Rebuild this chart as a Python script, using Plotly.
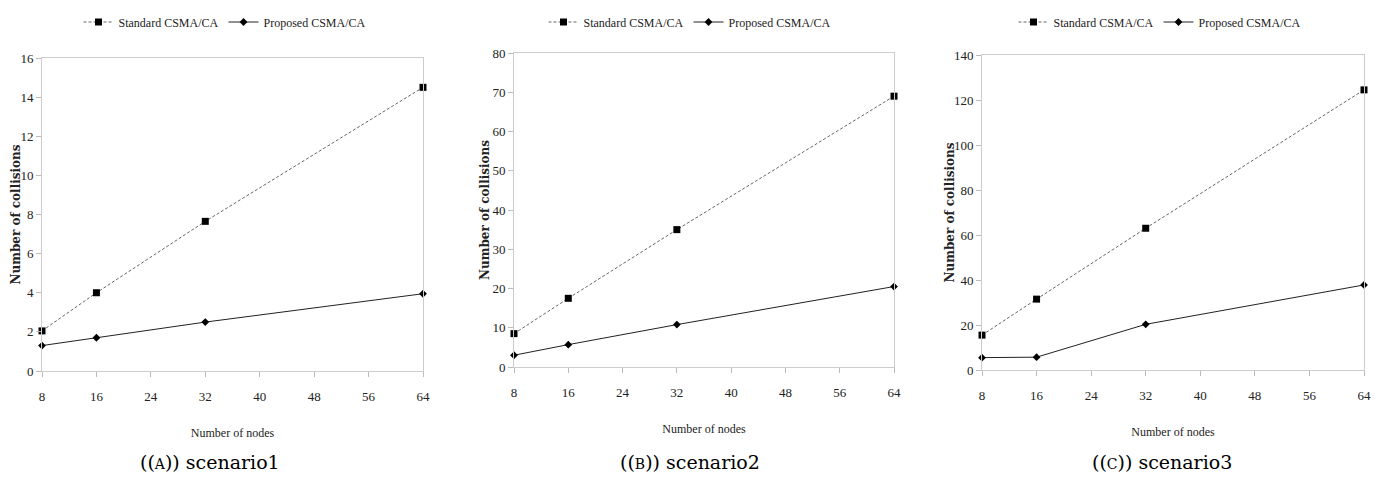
import plotly.graph_objects as go

nodes = [8, 16, 32, 64]
std_a = [2.05, 4.0, 7.65, 14.5]
prop_a = [1.3, 1.7, 2.5, 3.95]
std_b = [8.5, 17.5, 35.0, 69.0]
prop_b = [3.0, 5.7, 10.8, 20.5]
std_c = [15.5, 31.5, 63.0, 124.5]
prop_c = [5.5, 5.7, 20.3, 37.8]
x_ticks = [8, 16, 24, 32, 40, 48, 56, 64]
y_max = [16, 80, 140]
y_step = [2, 10, 20]
captions = ["((<span style='font-size:14px'>A</span>)) scenario1",
            "((<span style='font-size:14px'>B</span>)) scenario2",
            "((<span style='font-size:14px'>C</span>)) scenario3"]

OFF = 8  # default page body margin
W, H = 1386 - OFF, 478 - OFF
boxes = [(42, 423, 58, 371), (514, 894, 53, 367), (982, 1364, 55, 370)]
legend_x = [225, 690, 1160]
ytitle_x = [15, 485, 949]
caption_x = [210, 690, 1162]

def px(v):
    return (v - OFF) / W

def py(v):
    return 1 - (v - OFF) / H

SERIF = "Liberation Serif, Times New Roman, serif"
tick_font = dict(family=SERIF, size=13, color="#222222")
fig = go.Figure()
series = [(std_a, prop_a), (std_b, prop_b), (std_c, prop_c)]
for i, (s, p) in enumerate(series):
    xa = "x" if i == 0 else f"x{i+1}"
    ya = "y" if i == 0 else f"y{i+1}"
    lg = "legend" if i == 0 else f"legend{i+1}"
    fig.add_trace(go.Scatter(x=nodes, y=s, mode="lines+markers", name="Standard CSMA/CA",
                             line=dict(color="#666", width=1, dash="3px,2px"),
                             marker=dict(symbol="square", size=7, color="black"),
                             xaxis=xa, yaxis=ya, legend=lg, cliponaxis=False))
    fig.add_trace(go.Scatter(x=nodes, y=p, mode="lines+markers", name="Proposed CSMA/CA",
                             line=dict(color="#222", width=1),
                             marker=dict(symbol="diamond", size=6, color="black"),
                             xaxis=xa, yaxis=ya, legend=lg, cliponaxis=False))

layout = dict(width=W, height=H, margin=dict(l=0, r=0, t=0, b=0, autoexpand=False),
              font=dict(family=SERIF, size=13, color="#222222"),
              plot_bgcolor="white", paper_bgcolor="white", annotations=[])
for i, (xl, xr, yt, yb) in enumerate(boxes):
    sfx = "" if i == 0 else str(i + 1)
    layout["xaxis" + sfx] = dict(
        domain=[px(xl), px(xr)], range=[8, 64], tickvals=x_ticks, automargin=False,
        anchor="y" + sfx, showgrid=False, zeroline=False,
        showline=True, linecolor="#ccc", linewidth=1, mirror=True,
        ticks="outside", tickcolor="#bbb", ticklen=5, tickfont=tick_font, ticklabelstandoff=8,
        title=dict(text="Number of nodes", font=dict(family=SERIF, size=12, color="#222222"), standoff=26))
    layout["yaxis" + sfx] = dict(
        domain=[py(yb), py(yt)], range=[0, y_max[i]], dtick=y_step[i], automargin=False,
        anchor="x" + sfx, showgrid=False, zeroline=False,
        showline=True, linecolor="#ccc", linewidth=1, mirror=True,
        ticks="outside", tickcolor="#bbb", ticklen=5, tickfont=tick_font)
    layout["annotations"].append(dict(
        text="<b>Number of collisions</b>", x=px(ytitle_x[i]), y=py((yt + yb) / 2),
        xref="paper", yref="paper", textangle=-90, showarrow=False,
        font=dict(family="DejaVu Serif", size=12, color="#222"), xanchor="center", yanchor="middle"))
    layout["legend" + sfx] = dict(
        orientation="h", x=px(legend_x[i]), xanchor="center", y=py(22), yanchor="middle",
        font=dict(family=SERIF, size=12, color="#222222"), bgcolor="rgba(0,0,0,0)")
    layout["annotations"].append(dict(
        text=captions[i], x=px(caption_x[i]), y=py(462), xref="paper", yref="paper",
        showarrow=False, font=dict(family="DejaVu Serif", size=19, color="black"),
        xanchor="center", yanchor="middle"))

fig.update_layout(**layout)
fig.write_html("out.html")
